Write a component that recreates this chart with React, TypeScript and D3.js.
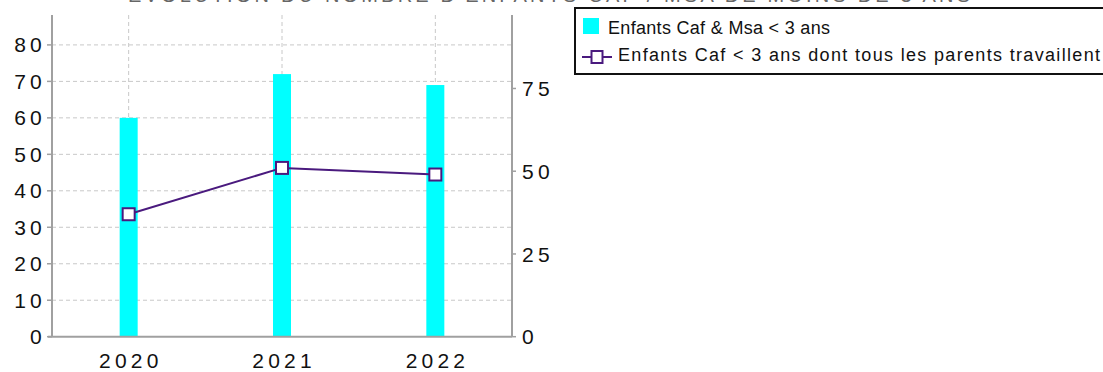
import React from "react";
import * as d3 from "d3";

const categories = ["2020", "2021", "2022"];
const barValues = [60, 72, 69];
const lineValues = [37, 51, 49];
const leftTicks = [0, 10, 20, 30, 40, 50, 60, 70, 80];
const rightTicks = [0, 25, 50, 75];
const barLabel = "Enfants Caf & Msa < 3 ans";
const lineLabel = "Enfants Caf < 3 ans dont tous les parents travaillent";
const title = "EVOLUTION DU NOMBRE D'ENFANTS CAF / MSA DE MOINS DE 3 ANS";

const W = 1103;
const H = 372;
const plot = { left: 52, right: 512, top: 15, bottom: 336.7 };

export default function App() {
  const x = d3.scaleBand().domain(categories).range([plot.left, plot.right]).padding(0);
  const yL = d3.scaleLinear().domain([0, 88.2]).range([plot.bottom, plot.top]);
  const yR = d3.scaleLinear().domain([0, 97.2]).range([plot.bottom, plot.top]);
  const cx = (c: string) => (x(c) as number) + x.bandwidth() / 2;
  const barW = 18;
  const line = d3
    .line<number>()
    .x((_, i) => cx(categories[i]))
    .y((d) => yR(d));
  const font = "'Liberation Sans', Arial, sans-serif";
  const axisColor = "#a0a0a0";
  const gridColor = "#c8c8c8";
  const purple = "#4a1a7e";
  const ls = 4.2;
  const fs = 21;

  return (
    <svg
      width={W}
      height={H}
      style={{ position: "absolute", left: 0, top: 0, background: "#fff" }}
      fontFamily={font}
    >
      <text
        x={549}
        y={1.5}
        textAnchor="middle"
        fontSize={20}
        fill="#666"
        textLength={842}
        lengthAdjust="spacing"
      >
        {title}
      </text>

      {/* horizontal grid */}
      {leftTicks.filter((t) => t > 0).map((t) => (
        <line
          key={"hg" + t}
          x1={plot.left}
          x2={plot.right}
          y1={yL(t)}
          y2={yL(t)}
          stroke={gridColor}
          strokeDasharray="4,3"
          strokeWidth={1}
        />
      ))}
      {/* vertical grid */}
      {categories.map((c) => (
        <line
          key={"vg" + c}
          x1={cx(c)}
          x2={cx(c)}
          y1={plot.top}
          y2={plot.bottom}
          stroke={gridColor}
          strokeDasharray="4,3"
          strokeWidth={1}
        />
      ))}

      {/* bars */}
      {categories.map((c, i) => (
        <rect
          key={"b" + c}
          x={cx(c) - barW / 2}
          y={yL(barValues[i])}
          width={barW}
          height={plot.bottom - yL(barValues[i])}
          fill="#00ffff"
        />
      ))}

      {/* axes */}
      <line x1={plot.left} x2={plot.left} y1={plot.top} y2={plot.bottom} stroke={axisColor} strokeWidth={2} />
      <line x1={plot.right} x2={plot.right} y1={plot.top} y2={plot.bottom} stroke={axisColor} strokeWidth={2} />
      <line x1={plot.left - 4} x2={plot.right} y1={plot.bottom} y2={plot.bottom} stroke={axisColor} strokeWidth={2} />

      {leftTicks.map((t) => (
        <g key={"lt" + t}>
          <line x1={plot.left - 5} x2={plot.left} y1={yL(t)} y2={yL(t)} stroke={axisColor} strokeWidth={1.5} />
          <text
            x={plot.left - 6}
            y={yL(t)}
            dy="0.36em"
            textAnchor="end"
            fontSize={fs}
            letterSpacing={ls}
            fill="#111"
          >
            {t}
          </text>
        </g>
      ))}
      {rightTicks.map((t) => (
        <g key={"rt" + t}>
          <line x1={plot.right} x2={plot.right + 4} y1={yR(t)} y2={yR(t)} stroke={axisColor} strokeWidth={1.5} />
          <text
            x={plot.right + 10}
            y={yR(t)}
            dy="0.36em"
            textAnchor="start"
            fontSize={fs}
            letterSpacing={ls}
            fill="#111"
          >
            {t}
          </text>
        </g>
      ))}
      {categories.map((c) => (
        <text
          key={"xl" + c}
          x={cx(c) + ls / 2}
          y={368}
          textAnchor="middle"
          fontSize={fs}
          letterSpacing={ls}
          fill="#111"
        >
          {c}
        </text>
      ))}

      {/* line series */}
      <path d={line(lineValues) || ""} fill="none" stroke={purple} strokeWidth={2} />
      {lineValues.map((v, i) => (
        <rect
          key={"m" + i}
          x={cx(categories[i]) - 6}
          y={yR(v) - 6}
          width={12}
          height={12}
          fill="#fff"
          stroke={purple}
          strokeWidth={2}
        />
      ))}

      {/* legend */}
      <rect x={575} y={8} width={540} height={66} fill="#fff" stroke="#111" strokeWidth={2} />
      <rect x={583} y={18} width={16} height={16} fill="#00ffff" />
      <text x={608} y={33.5} fontSize={18} fill="#111" textLength={222} lengthAdjust="spacing">
        {barLabel}
      </text>
      <line x1={582} x2={612} y1={57} y2={57} stroke={purple} strokeWidth={2} />
      <rect x={591.5} y={51} width={11} height={12} fill="#fff" stroke={purple} strokeWidth={2} />
      <text x={618} y={60.5} fontSize={18} fill="#111" textLength={482} lengthAdjust="spacing">
        {lineLabel}
      </text>
    </svg>
  );
}
